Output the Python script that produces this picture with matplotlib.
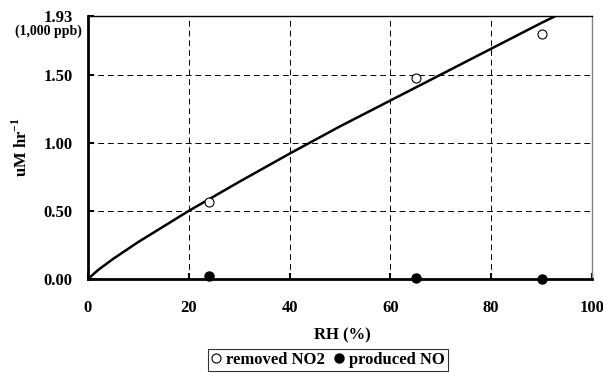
import matplotlib.pyplot as plt

plt.rcParams['font.family'] = ['Liberation Serif', 'DejaVu Serif']
plt.rcParams['font.weight'] = 'bold'
plt.rcParams['mathtext.fontset'] = 'custom'
plt.rcParams['mathtext.rm'] = 'Liberation Serif:bold'
plt.rcParams['mathtext.bf'] = 'Liberation Serif:bold'

# --- data ---
rh_pts = [24, 65, 90]
removed_no2 = [0.565, 1.475, 1.80]
produced_no = [0.02, 0.005, 0.0]

curve_x = [0, 2, 5, 10, 20, 30, 40, 50, 60, 70, 80, 90, 95]
curve_y = [0.0, 0.066, 0.148, 0.272, 0.50, 0.713, 0.92, 1.12, 1.31, 1.50, 1.69, 1.88, 1.97]

y_ticks = [0.0, 0.5, 1.0, 1.5, 1.93]
y_labels = ["0.00", "0.50", "1.00", "1.50", "1.93"]
x_ticks = [0, 20, 40, 60, 80, 100]

W, H = 603, 379
fig = plt.figure(figsize=(6.03, 3.79), dpi=100)
ax = fig.add_axes([88 / W, 1 - 279 / H, 504 / W, 263 / H])

ax.plot(curve_x, curve_y, '-', color='black', linewidth=1.8, zorder=3)
ax.plot(rh_pts, removed_no2, 'o', markerfacecolor='white', markeredgecolor='black',
        markersize=6.5, markeredgewidth=0.8, linestyle='none', label='removed NO2', zorder=4)
ax.plot(rh_pts, produced_no, 'o', color='black', markersize=6.5, linestyle='none',
        label='produced NO', zorder=4, clip_on=False)

ax.set_xlim(0, 100)
ax.set_ylim(0, 1.93)
ax.set_xticks(x_ticks)
ax.set_yticks(y_ticks)
ax.set_yticklabels(y_labels)

ax.tick_params(direction='in', length=4, width=1.5, labelsize=12)
ax.tick_params(axis='y', pad=11)
ax.tick_params(axis='x', pad=15)

fig.text(82 / W, 1 - 24.5 / H, "(1,000 ppb)", ha='right', va='top',
         fontsize=10, fontweight='bold')

ax.grid(True, linestyle=(0, (6, 4)), color='black', linewidth=0.7)
ax.xaxis.get_gridlines()[-1].set_visible(False)
ax.xaxis.get_gridlines()[0].set_visible(False)
ax.yaxis.get_gridlines()[0].set_visible(False)
ax.yaxis.get_gridlines()[-1].set_visible(False)

ax.spines['left'].set_linewidth(2)
ax.spines['bottom'].set_linewidth(2)
ax.spines['top'].set_linewidth(1)
ax.spines['right'].set_linewidth(1)
ax.spines['right'].set_color('#808080')

ax.set_xlabel("RH (%)", fontsize=12, fontweight='bold')
ax.xaxis.set_label_coords((342 - 88) / 504, -(327 - 279) / 263)
ax.set_ylabel(r"uM hr$^{-1}$", fontsize=12, fontweight='bold')
ax.yaxis.set_label_coords(-(88 - 31) / 504, 0.5)

leg = fig.legend(loc='center', bbox_to_anchor=(328 / W, 1 - 360 / H), ncol=2,
                 frameon=True, fancybox=False, edgecolor='black',
                 handlelength=0.6, handletextpad=0.3, columnspacing=0.5,
                 borderpad=0.2, prop={'weight': 'bold', 'size': 12})
leg.get_frame().set_linewidth(0.8)

fig.savefig("out.png", dpi=100)
